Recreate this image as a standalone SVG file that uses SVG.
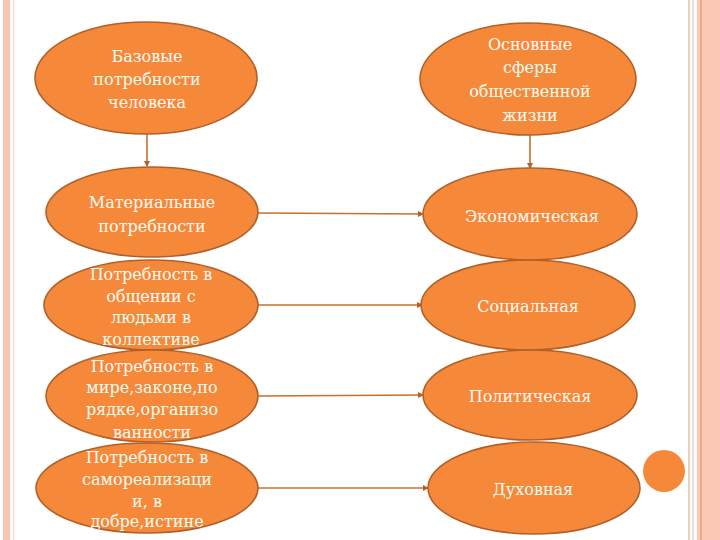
<svg xmlns="http://www.w3.org/2000/svg" width="720" height="540" viewBox="0 0 720 540">
<defs>
<style>
.n{fill:#F6883A;stroke:#B0602A;stroke-width:1.6}
.t{font-family:"DejaVu Serif","Liberation Serif",serif;font-size:16px;fill:#FFFBF2;text-anchor:middle}
.c{stroke:#C8702C;stroke-width:1.6;fill:none}
</style>
<marker id="a" markerWidth="6" markerHeight="6" refX="5" refY="3" orient="auto" markerUnits="userSpaceOnUse">
<path d="M0,0 L6,3 L0,6 Z" fill="#B0602A"/>
</marker>
</defs>
<rect width="720" height="540" fill="#FFFFFF"/>
<g id="frame">
<rect x="3" y="0" width="7" height="540" fill="#FBC4AF"/>
<rect x="13" y="0" width="1.5" height="540" fill="#F8DDD2"/>
<rect x="688" y="0" width="2" height="540" fill="#EBCFC0"/>
<rect x="692" y="0" width="2" height="540" fill="#F3DCCF"/>
<rect x="697" y="0" width="23" height="540" fill="#FDC9B7"/>
<rect x="700" y="0" width="2" height="540" fill="#F2A587"/>
</g>
<g id="connectors">
<line class="c" x1="147" y1="134" x2="147" y2="166" marker-end="url(#a)"/>
<line class="c" x1="530" y1="135" x2="530" y2="168" marker-end="url(#a)"/>
<line class="c" x1="258" y1="213" x2="423" y2="214" marker-end="url(#a)"/>
<line class="c" x1="258" y1="305" x2="422" y2="305" marker-end="url(#a)"/>
<line class="c" x1="258" y1="396" x2="423" y2="395" marker-end="url(#a)"/>
<line class="c" x1="258" y1="488" x2="428" y2="488" marker-end="url(#a)"/>
</g>
<g id="base">
<ellipse class="n" cx="146" cy="78" rx="111" ry="56"/>
<text class="t"><tspan x="147" y="62">Базовые</tspan><tspan x="147" y="85">потребности</tspan><tspan x="147" y="108">человека</tspan></text>
</g>
<g id="spheres">
<ellipse class="n" cx="528" cy="79" rx="108" ry="56"/>
<text class="t"><tspan x="530" y="50">Основные</tspan><tspan x="530" y="73">сферы</tspan><tspan x="530" y="97">общественной</tspan><tspan x="530" y="121">жизни</tspan></text>
</g>
<g id="material">
<ellipse class="n" cx="152" cy="212" rx="106" ry="45"/>
<text class="t"><tspan x="152" y="208">Материальные</tspan><tspan x="152" y="232">потребности</tspan></text>
</g>
<g id="communication">
<ellipse class="n" cx="151" cy="305" rx="107" ry="45"/>
<text class="t"><tspan x="151" y="280">Потребность в</tspan><tspan x="151" y="302">общении с</tspan><tspan x="151" y="323">людьми в</tspan><tspan x="151" y="345">коллективе</tspan></text>
</g>
<g id="peace">
<ellipse class="n" cx="152" cy="396" rx="106" ry="46"/>
<text class="t"><tspan x="152" y="372">Потребность в</tspan><tspan x="152" y="393">мире,законе,по</tspan><tspan x="152" y="415">рядке,организо</tspan><tspan x="152" y="438">ванности</tspan></text>
</g>
<g id="selfreal">
<ellipse class="n" cx="147" cy="488" rx="111" ry="45"/>
<text class="t"><tspan x="147" y="463">Потребность в</tspan><tspan x="147" y="485">самореализаци</tspan><tspan x="147" y="507">и, в</tspan><tspan x="147" y="527">добре,истине</tspan></text>
</g>
<g id="economic">
<ellipse class="n" cx="530" cy="214" rx="107" ry="46"/>
<text class="t" x="532" y="222">Экономическая</text>
</g>
<g id="social">
<ellipse class="n" cx="528" cy="305" rx="107" ry="45"/>
<text class="t" x="528" y="312">Социальная</text>
</g>
<g id="political">
<ellipse class="n" cx="530" cy="395" rx="107" ry="45"/>
<text class="t" x="530" y="402">Политическая</text>
</g>
<g id="spiritual">
<ellipse class="n" cx="534" cy="488" rx="106" ry="46"/>
<text class="t" x="533" y="495">Духовная</text>
</g>
<g id="dot">
<circle cx="664" cy="471" r="21" fill="#F6883A"/>
</g>
</svg>
